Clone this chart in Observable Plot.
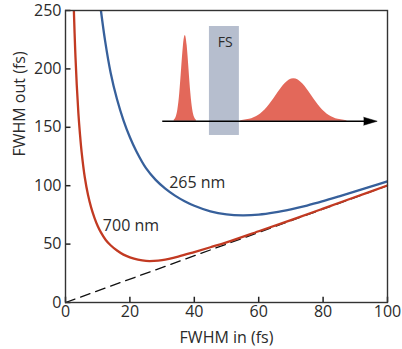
<!DOCTYPE html>
<html>
<head>
<meta charset="utf-8">
<script src="https://cdn.jsdelivr.net/npm/d3@7"></script>
<script src="https://cdn.jsdelivr.net/npm/@observablehq/plot@0.6"></script>
<style>
  html, body { margin: 0; padding: 0; background: #fff; overflow: hidden; }
</style>
</head>
<body>
<div id="chart"></div>
<script>
// Axis ticks
const xTicks = [0, 20, 40, 60, 80, 100];
const yTicks = [0, 50, 100, 150, 200, 250];

// 700 nm curve (FWHM in, FWHM out)
const redIn  = [2.6, 3.0, 3.5, 4.0, 4.5, 5.0, 6.0, 7.0, 8.0, 9.0, 10, 11, 12.5, 14, 16, 18, 20, 22.5, 25, 27.5, 30, 35, 40, 45, 50, 60, 70, 80, 90, 100];
const redOut = [250, 217, 186, 162, 144, 129, 107, 92, 81, 72.5, 65.5, 60, 53.5, 49, 44.5, 41, 38.7, 36.7, 35.6, 35.6, 36.3, 39.3, 43.2, 47.3, 51.5, 61, 70.6, 80.4, 90.3, 100.2];

// 265 nm curve
const blueIn  = [11.0, 12.3, 14, 16, 18, 20, 22, 25, 28, 31, 34, 37, 40, 45, 50, 55, 60, 65, 70, 75, 80, 85, 90, 95, 100];
const blueOut = [250, 224, 197, 174, 156, 141.5, 129.5, 115, 105, 97.5, 91.5, 86.7, 82.8, 78, 75.4, 74.6, 75.2, 77.1, 79.8, 83.0, 86.8, 90.9, 95.1, 99.4, 103.7];

// reference line out = in
const refX = [0, 100];
const refY = [0, 100];

// curve labels
const curveLabels = ["265 nm", "700 nm"];
const labelX = [32.2, 11.6];
const labelY = [102.3, 65.9];

// inset: pulses before / after fused silica
const pulseBase = 155.2;
const narrowX = [33.75, 34.33, 34.9, 35.48, 36.05, 36.63, 37.2, 37.78, 38.35, 38.93, 39.5, 40.08, 40.65];
const narrowY = [156.0, 158.4, 165.1, 179.0, 199.7, 220.0, 228.6, 220.0, 199.7, 179.0, 165.1, 158.4, 156.0];
const wideX = [54.4, 57.15, 59.9, 62.65, 65.4, 68.15, 70.9, 73.65, 76.4, 79.15, 81.9, 84.65, 87.4];
const wideY = [155.6, 156.8, 160.1, 167.0, 177.2, 187.2, 191.5, 187.2, 177.2, 167.0, 160.1, 156.8, 155.6];
const fsX = [44.7, 54.0];
const fsY = [143.0, 236.3];
const fsLabel = ["FS"];
const fsLabelPos = [49.6, 222.9];
const arrowX = [30.2, 93.0];
const headX = [92.6, 96.8, 92.6];
const headY = [158.6, 155.2, 151.8];

const redData = redIn.map((x, i) => ({x, y: redOut[i]}));
const blueData = blueIn.map((x, i) => ({x, y: blueOut[i]}));
const refData = refX.map((x, i) => ({x, y: refY[i]}));
const lblData = curveLabels.map((t, i) => ({t, x: labelX[i], y: labelY[i]}));
const narrowData = narrowX.map((x, i) => ({x, y: narrowY[i]}));
const wideData = wideX.map((x, i) => ({x, y: wideY[i]}));
const headData = headX.map((x, i) => ({x, y: headY[i]}));

const FONT = "'Open Sans', 'Noto Sans', sans-serif";
const TXT = "#2b2b2b";

const chart = Plot.plot({
  width: 402,
  height: 349,
  marginLeft: 65,
  marginRight: 15,
  marginTop: 10,
  marginBottom: 47,
  style: { fontFamily: FONT, fontSize: "16px", color: TXT, background: "#fff" },
  x: { domain: [0, 100] },
  y: { domain: [0, 250] },
  marks: [
    // inset
    Plot.rect([0], { x1: fsX[0], x2: fsX[1], y1: fsY[0], y2: fsY[1], fill: "#b6bece" }),
    Plot.text(fsLabel, { x: fsLabelPos[0], y: fsLabelPos[1], text: d => d, fontSize: 14, fill: TXT, fontFamily: FONT }),
    Plot.areaY(narrowData, { x: "x", y1: pulseBase, y2: "y", fill: "#e3685a", curve: "natural" }),
    Plot.areaY(wideData, { x: "x", y1: pulseBase, y2: "y", fill: "#e3685a", curve: "natural" }),
    Plot.ruleY([pulseBase], { x1: arrowX[0], x2: arrowX[1], stroke: "#000", strokeWidth: 1.5 }),
    Plot.line(headData, { x: "x", y: "y", fill: "#000", stroke: "#000", strokeWidth: 0.5 }),
    // reference dashed line
    Plot.line(refData, { x: "x", y: "y", stroke: "#111", strokeWidth: 1.3, strokeDasharray: "10,6" }),
    // curves
    Plot.line(redData, { x: "x", y: "y", stroke: "#c23a22", strokeWidth: 2.3, curve: "catmull-rom", clip: true }),
    Plot.line(blueData, { x: "x", y: "y", stroke: "#37609b", strokeWidth: 2.3, curve: "catmull-rom", clip: true }),
    Plot.text(lblData, { x: "x", y: "y", text: "t", textAnchor: "start", fontSize: 16, fill: TXT, fontFamily: FONT }),
    // axes
    Plot.axisX(xTicks, { tickSize: 0, tickPadding: 3, fontSize: 16, label: null, fill: TXT }),
    Plot.axisY(yTicks, { tickSize: 0, tickPadding: 4, fontSize: 16, label: null, fill: TXT }),
    Plot.ruleX(xTicks, { x: d => d, y1: () => 0, y2: () => 4.5, stroke: "#222", strokeWidth: 1.5 }),
    Plot.ruleY(yTicks, { y: d => d, x1: () => 0, x2: () => 1.7, stroke: "#222", strokeWidth: 1.5 }),
    Plot.text(["FWHM in (fs)"], { frameAnchor: "bottom", dy: 40, text: d => d, fontSize: 16, fill: TXT, fontFamily: FONT }),
    Plot.text(["FWHM out (fs)"], { frameAnchor: "left", dx: -46, rotate: -90, text: d => d, fontSize: 16, fill: TXT, fontFamily: FONT }),
    Plot.frame({ stroke: "#333", strokeWidth: 1.4 })
  ]
});
document.getElementById("chart").appendChild(chart);
</script>
</body>
</html>
